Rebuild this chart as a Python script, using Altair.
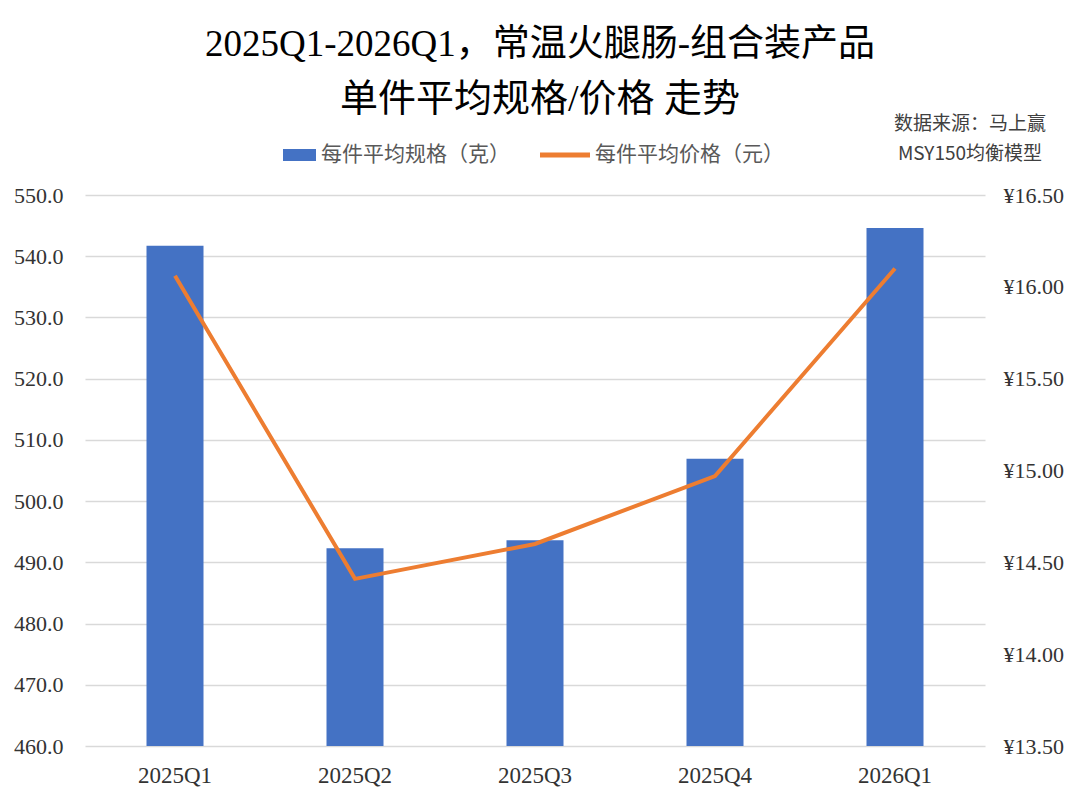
import altair as alt
import pandas as pd

# 数据
quarters = ["2025Q1", "2025Q2", "2025Q3", "2025Q4", "2026Q1"]
avg_spec = [541.7, 492.3, 493.6, 506.9, 544.6]      # 每件平均规格（克）
avg_price = [16.06, 14.41, 14.60, 14.97, 16.10]     # 每件平均价格（元）
spec_ticks = [460, 470, 480, 490, 500, 510, 520, 530, 540, 550]
price_ticks = [13.5, 14.0, 14.5, 15.0, 15.5, 16.0, 16.5]

df = pd.DataFrame({"季度": quarters, "规格": avg_spec, "价格": avg_price})

SERIF = "Liberation Serif, Noto Sans CJK SC"
CJK = "Noto Sans CJK SC"
BLUE = "#4472C4"
ORANGE = "#ED7D31"

x_enc = alt.X("季度:N", sort=quarters, title=None,
              scale=alt.Scale(paddingInner=0, paddingOuter=0),
              axis=alt.Axis(labelAngle=0, ticks=False, domain=False, labelFont=SERIF,
                            labelFontSize=23, labelColor="#333333", labelPadding=18))

# 柱状：规格（左轴）
barras = alt.Chart(df).mark_bar(color=BLUE, size=57, clip=True).encode(
    x=x_enc,
    y=alt.Y("规格:Q", title=None,
            scale=alt.Scale(domain=[460, 550], zero=False, nice=False),
            axis=alt.Axis(values=spec_ticks, format=".1f", ticks=False, domain=False,
                          labelFont=SERIF, labelFontSize=22, labelColor="#333333",
                          labelPadding=22, gridColor="#d9d9d9", gridWidth=1.5)),
)

# 折线：价格（右轴）
linha = alt.Chart(df).mark_line(color=ORANGE, strokeWidth=4).encode(
    x=alt.X("季度:N", sort=quarters),
    y=alt.Y("价格:Q", title=None,
            scale=alt.Scale(domain=[13.5, 16.5], zero=False, nice=False),
            axis=alt.Axis(values=price_ticks, orient="right", grid=False, ticks=False,
                          domain=False, labelExpr="'¥' + format(datum.value, '.2f')",
                          labelFont=SERIF, labelFontSize=22, labelColor="#333333",
                          labelPadding=18)),
)

one = pd.DataFrame({"k": [0]})

def texto(t, x, y, size, align="center", weight="normal", color="#000000", font=SERIF):
    return alt.Chart(one).mark_text(
        text=t, fontSize=size, align=align, baseline="middle",
        fontWeight=weight, color=color, font=font
    ).encode(x=alt.value(x), y=alt.value(y))

titulo1 = texto("2025Q1-2026Q1，常温火腿肠-组合装产品", 455, -150, 37)
titulo2 = texto("单件平均规格/价格 走势", 455, -95, 38)
fonte1 = texto("数据来源：马上赢", 885, -71, 19, color="#404040", font=CJK)
fonte2 = texto("MSY150均衡模型", 885, -41, 19, color="#404040", font=CJK)

leg_rect = alt.Chart(one).mark_rect(color=BLUE).encode(
    x=alt.value(198), x2=alt.value(231), y=alt.value(-46), y2=alt.value(-34))
leg_line = alt.Chart(one).mark_rule(color=ORANGE, strokeWidth=5).encode(
    x=alt.value(455), x2=alt.value(505), y=alt.value(-40))
leg_t1 = texto("每件平均规格（克）", 236, -40, 21, align="left", color="#595959", font=CJK)
leg_t2 = texto("每件平均价格（元）", 510, -40, 21, align="left", color="#595959", font=CJK)

chart = alt.layer(
    barras, linha, titulo1, titulo2, fonte1, fonte2, leg_rect, leg_line, leg_t1, leg_t2
).resolve_scale(y="independent").properties(
    width=900, height=551,
    autosize=alt.AutoSizeParams(type="none"),
    padding={"left": 77, "top": 187, "right": 87, "bottom": 50},
    background="white",
).configure_view(stroke=None)

chart.save("out.html", embed_options={"renderer": "svg", "actions": False})
